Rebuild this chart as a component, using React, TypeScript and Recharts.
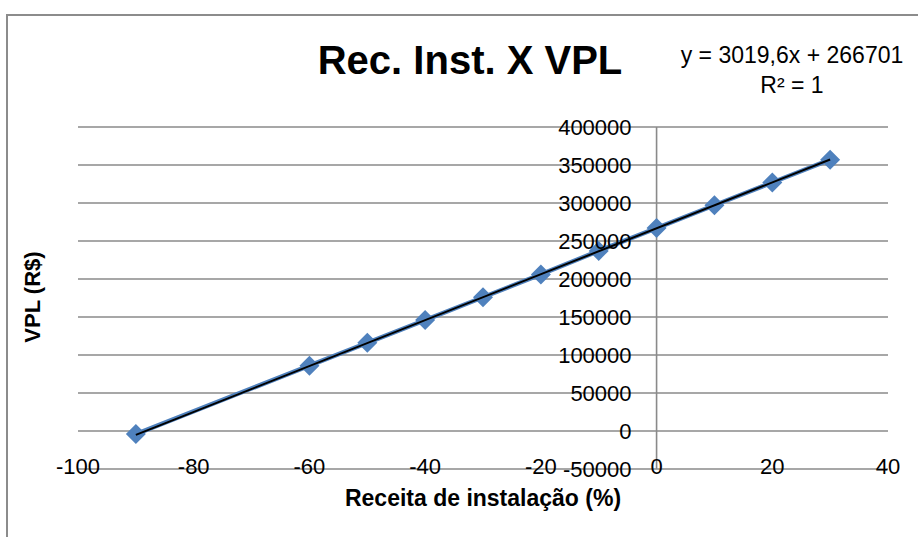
import React from "react";
import { CartesianGrid, ReferenceDot, ReferenceLine, Scatter, ScatterChart, XAxis, YAxis } from "recharts";

const receita = [-90, -60, -50, -40, -30, -20, -10, 0, 10, 20, 30];
const vpl = [-4000, 86000, 116000, 146000, 176000, 206000, 237000, 267000, 297000, 327000, 357000];
const trendX = [-90, 30];
const trendY = [-5100, 357300];
const xTicks = [-100, -80, -60, -40, -20, 0, 20, 40];
const yTicks = [-50000, 0, 50000, 100000, 150000, 200000, 250000, 300000, 350000, 400000];

const points = receita.map((x, i) => ({ x, y: vpl[i] }));
const trend = trendX.map((x, i) => ({ x, y: trendY[i] }));

const FONT = "'Liberation Sans', Arial, sans-serif";
const GRID = "#8a8a8a";

function Diamond(props: any) {
  const { cx, cy } = props;
  if (cx == null || cy == null) return <g />;
  const r = 10;
  return <polygon points={`${cx},${cy - r} ${cx + r},${cy} ${cx},${cy + r} ${cx - r},${cy}`} fill="#4f81bd" />;
}

function XTick(props: any) {
  const { x, y, payload } = props;
  return (
    <text x={x} y={y + 5} textAnchor="middle" fontSize={22} fontFamily={FONT} fill="#000">
      {payload.value}
    </text>
  );
}

export default function App() {
  return (
    <div style={{ position: "absolute", left: 0, top: 0, width: 918, height: 537, background: "#fff", fontFamily: FONT }}>
      <div style={{ position: "absolute", left: 6, top: 14, width: 912, height: 523, borderLeft: "2px solid #8c8c8c", borderTop: "2px solid #8c8c8c" }} />
      <ScatterChart width={918} height={537} margin={{ top: 127, right: 30, bottom: 38, left: 78 }}>
        <CartesianGrid vertical={false} stroke={GRID} strokeWidth={1.6} />
        <XAxis
          type="number"
          dataKey="x"
          domain={[-100, 40]}
          ticks={xTicks}
          axisLine={false}
          tickLine={false}
          tickSize={0}
          tickMargin={0}
          height={30}
          tick={<XTick />}
          interval={0}
        />
        <YAxis
          type="number"
          dataKey="y"
          domain={[-50000, 400000]}
          ticks={yTicks}
          interval={0}
          width={0}
          tick={() => <g />}
          axisLine={false}
          tickLine={false}
        />
        <ReferenceLine x={0} stroke={GRID} strokeWidth={1.6} />
        {yTicks.map((v) => (
          <ReferenceDot
            key={v}
            x={0}
            y={v}
            r={0}
            fill="none"
            stroke="none"
            label={{ value: String(v), position: "left", offset: 25, fontSize: 22, fontFamily: FONT, fill: "#000" }}
          />
        ))}
        <Scatter data={points} line={{ stroke: "#4f81bd", strokeWidth: 4.5 }} shape={<Diamond />} isAnimationActive={false} />
        <Scatter data={trend} line={{ stroke: "#000", strokeWidth: 2 }} shape={() => <g />} isAnimationActive={false} />
      </ScatterChart>
      <div style={{ position: "absolute", left: 270, width: 400, top: 37, textAlign: "center", fontSize: 40, fontWeight: "bold", lineHeight: "46px" }}>
        Rec. Inst. X VPL
      </div>
      <div style={{ position: "absolute", left: 662, width: 260, top: 40, textAlign: "center", fontSize: 23, lineHeight: "30px" }}>
        <div>y = 3019,6x + 266701</div>
        <div>R² = 1</div>
      </div>
      <div style={{ position: "absolute", left: 283, width: 400, top: 485, textAlign: "center", fontSize: 23, fontWeight: "bold" }}>
        Receita de instalação (%)
      </div>
      <div
        style={{
          position: "absolute",
          left: 33,
          top: 297,
          transform: "translate(-50%, -50%) rotate(-90deg)",
          fontSize: 22,
          fontWeight: "bold",
          whiteSpace: "nowrap",
        }}
      >
        VPL (R$)
      </div>
    </div>
  );
}
